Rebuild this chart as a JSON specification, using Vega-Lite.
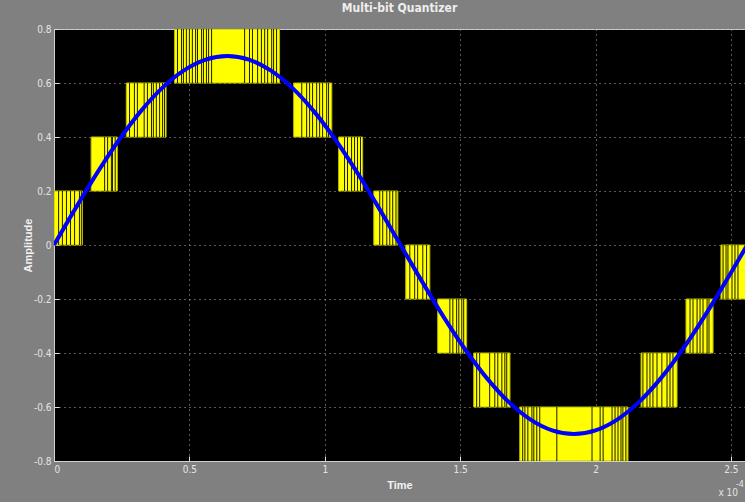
{
  "$schema": "https://vega.github.io/schema/vega-lite/v6.json",
  "autosize": "none",
  "width": 691,
  "height": 432,
  "padding": {"left": 54, "top": 29, "right": 0, "bottom": 41},
  "background": "#808080",
  "title": {"text": "Multi-bit Quantizer", "color": "#eeeeee", "font": "Liberation Sans Narrow, DejaVu Sans Condensed, sans-serif", "fontSize": 12, "fontWeight": "bold", "offset": 9, "anchor": "middle"},
  "config": {
    "view": {"fill": "#000000", "stroke": "#cfcfcf", "strokeWidth": 1},
    "axis": {
      "labelFont": "Liberation Sans Narrow, DejaVu Sans Condensed, sans-serif",
      "labelFontSize": 10,
      "labelColor": "#e4e4e4",
      "titleFont": "Liberation Sans, Arial, sans-serif",
      "titleFontSize": 11,
      "titleFontWeight": "bold",
      "titleColor": "#f2f2f2",
      "grid": true,
      "gridColor": "#b0b0b0",
      "gridDash": [1, 4],
      "gridWidth": 1,
      "domainColor": "#d0d0d0",
      "tickColor": "#e0e0e0",
      "tickSize": -5
    }
  },
  "datasets": {
    "bands": [
      {"t0": 0.0, "t1": 0.105, "lo": 0.0, "hi": 0.2},
      {"t0": 0.137, "t1": 0.234, "lo": 0.2, "hi": 0.4},
      {"t0": 0.267, "t1": 0.414, "lo": 0.4, "hi": 0.6},
      {"t0": 0.445, "t1": 0.833, "lo": 0.6, "hi": 0.8},
      {"t0": 0.885, "t1": 1.026, "lo": 0.4, "hi": 0.6},
      {"t0": 1.051, "t1": 1.140, "lo": 0.2, "hi": 0.4},
      {"t0": 1.181, "t1": 1.270, "lo": 0.0, "hi": 0.2},
      {"t0": 1.299, "t1": 1.388, "lo": -0.2, "hi": 0.0},
      {"t0": 1.417, "t1": 1.524, "lo": -0.4, "hi": -0.2},
      {"t0": 1.550, "t1": 1.684, "lo": -0.6, "hi": -0.4},
      {"t0": 1.720, "t1": 2.120, "lo": -0.8, "hi": -0.6},
      {"t0": 2.168, "t1": 2.301, "lo": -0.6, "hi": -0.4},
      {"t0": 2.334, "t1": 2.434, "lo": -0.4, "hi": -0.2},
      {"t0": 2.463, "t1": 2.560, "lo": -0.2, "hi": 0.0}
    ],
    "gaps": [
      {"t": 0.017, "lo": 0.0, "hi": 0.2}, {"t": 0.031, "lo": 0.0, "hi": 0.2}, {"t": 0.046, "lo": 0.0, "hi": 0.2}, {"t": 0.061, "lo": 0.0, "hi": 0.2}, {"t": 0.076, "lo": 0.0, "hi": 0.2}, {"t": 0.094, "lo": 0.0, "hi": 0.2}, {"t": 0.101, "lo": 0.0, "hi": 0.2},
      {"t": 0.187, "lo": 0.2, "hi": 0.4}, {"t": 0.198, "lo": 0.2, "hi": 0.4}, {"t": 0.212, "lo": 0.2, "hi": 0.4}, {"t": 0.216, "lo": 0.2, "hi": 0.4}, {"t": 0.226, "lo": 0.2, "hi": 0.4},
      {"t": 0.279, "lo": 0.4, "hi": 0.6}, {"t": 0.297, "lo": 0.4, "hi": 0.6}, {"t": 0.308, "lo": 0.4, "hi": 0.6}, {"t": 0.333, "lo": 0.4, "hi": 0.6}, {"t": 0.345, "lo": 0.4, "hi": 0.6}, {"t": 0.360, "lo": 0.4, "hi": 0.6}, {"t": 0.367, "lo": 0.4, "hi": 0.6}, {"t": 0.378, "lo": 0.4, "hi": 0.6}, {"t": 0.390, "lo": 0.4, "hi": 0.6}, {"t": 0.401, "lo": 0.4, "hi": 0.6}, {"t": 0.408, "lo": 0.4, "hi": 0.6},
      {"t": 0.456, "lo": 0.6, "hi": 0.8}, {"t": 0.471, "lo": 0.6, "hi": 0.8}, {"t": 0.478, "lo": 0.6, "hi": 0.8}, {"t": 0.489, "lo": 0.6, "hi": 0.8}, {"t": 0.500, "lo": 0.6, "hi": 0.8}, {"t": 0.511, "lo": 0.6, "hi": 0.8}, {"t": 0.523, "lo": 0.6, "hi": 0.8}, {"t": 0.530, "lo": 0.6, "hi": 0.8}, {"t": 0.545, "lo": 0.6, "hi": 0.8}, {"t": 0.552, "lo": 0.6, "hi": 0.8}, {"t": 0.563, "lo": 0.6, "hi": 0.8}, {"t": 0.571, "lo": 0.6, "hi": 0.8}, {"t": 0.582, "lo": 0.6, "hi": 0.8}, {"t": 0.704, "lo": 0.6, "hi": 0.8}, {"t": 0.722, "lo": 0.6, "hi": 0.8}, {"t": 0.733, "lo": 0.6, "hi": 0.8}, {"t": 0.752, "lo": 0.6, "hi": 0.8}, {"t": 0.766, "lo": 0.6, "hi": 0.8}, {"t": 0.778, "lo": 0.6, "hi": 0.8}, {"t": 0.789, "lo": 0.6, "hi": 0.8}, {"t": 0.804, "lo": 0.6, "hi": 0.8}, {"t": 0.811, "lo": 0.6, "hi": 0.8}, {"t": 0.822, "lo": 0.6, "hi": 0.8},
      {"t": 0.915, "lo": 0.4, "hi": 0.6}, {"t": 0.933, "lo": 0.4, "hi": 0.6}, {"t": 0.944, "lo": 0.4, "hi": 0.6}, {"t": 0.955, "lo": 0.4, "hi": 0.6}, {"t": 0.970, "lo": 0.4, "hi": 0.6}, {"t": 0.981, "lo": 0.4, "hi": 0.6}, {"t": 0.992, "lo": 0.4, "hi": 0.6}, {"t": 1.007, "lo": 0.4, "hi": 0.6}, {"t": 1.014, "lo": 0.4, "hi": 0.6},
      {"t": 1.073, "lo": 0.2, "hi": 0.4}, {"t": 1.084, "lo": 0.2, "hi": 0.4}, {"t": 1.099, "lo": 0.2, "hi": 0.4}, {"t": 1.110, "lo": 0.2, "hi": 0.4}, {"t": 1.121, "lo": 0.2, "hi": 0.4}, {"t": 1.132, "lo": 0.2, "hi": 0.4},
      {"t": 1.203, "lo": 0.0, "hi": 0.2}, {"t": 1.214, "lo": 0.0, "hi": 0.2}, {"t": 1.229, "lo": 0.0, "hi": 0.2}, {"t": 1.240, "lo": 0.0, "hi": 0.2}, {"t": 1.251, "lo": 0.0, "hi": 0.2}, {"t": 1.263, "lo": 0.0, "hi": 0.2},
      {"t": 1.314, "lo": -0.2, "hi": 0.0}, {"t": 1.332, "lo": -0.2, "hi": 0.0}, {"t": 1.343, "lo": -0.2, "hi": 0.0}, {"t": 1.362, "lo": -0.2, "hi": 0.0}, {"t": 1.376, "lo": -0.2, "hi": 0.0},
      {"t": 1.462, "lo": -0.4, "hi": -0.2}, {"t": 1.473, "lo": -0.4, "hi": -0.2}, {"t": 1.487, "lo": -0.4, "hi": -0.2}, {"t": 1.495, "lo": -0.4, "hi": -0.2}, {"t": 1.506, "lo": -0.4, "hi": -0.2}, {"t": 1.513, "lo": -0.4, "hi": -0.2},
      {"t": 1.561, "lo": -0.6, "hi": -0.4}, {"t": 1.572, "lo": -0.6, "hi": -0.4}, {"t": 1.609, "lo": -0.6, "hi": -0.4}, {"t": 1.628, "lo": -0.6, "hi": -0.4}, {"t": 1.639, "lo": -0.6, "hi": -0.4}, {"t": 1.654, "lo": -0.6, "hi": -0.4}, {"t": 1.665, "lo": -0.6, "hi": -0.4}, {"t": 1.672, "lo": -0.6, "hi": -0.4},
      {"t": 1.731, "lo": -0.8, "hi": -0.6}, {"t": 1.739, "lo": -0.8, "hi": -0.6}, {"t": 1.750, "lo": -0.8, "hi": -0.6}, {"t": 1.765, "lo": -0.8, "hi": -0.6}, {"t": 1.772, "lo": -0.8, "hi": -0.6}, {"t": 1.783, "lo": -0.8, "hi": -0.6}, {"t": 1.794, "lo": -0.8, "hi": -0.6}, {"t": 1.857, "lo": -0.8, "hi": -0.6}, {"t": 1.987, "lo": -0.8, "hi": -0.6}, {"t": 2.017, "lo": -0.8, "hi": -0.6}, {"t": 2.028, "lo": -0.8, "hi": -0.6}, {"t": 2.061, "lo": -0.8, "hi": -0.6}, {"t": 2.072, "lo": -0.8, "hi": -0.6}, {"t": 2.083, "lo": -0.8, "hi": -0.6}, {"t": 2.094, "lo": -0.8, "hi": -0.6}, {"t": 2.101, "lo": -0.8, "hi": -0.6}, {"t": 2.112, "lo": -0.8, "hi": -0.6},
      {"t": 2.175, "lo": -0.6, "hi": -0.4}, {"t": 2.190, "lo": -0.6, "hi": -0.4}, {"t": 2.201, "lo": -0.6, "hi": -0.4}, {"t": 2.212, "lo": -0.6, "hi": -0.4}, {"t": 2.227, "lo": -0.6, "hi": -0.4}, {"t": 2.245, "lo": -0.6, "hi": -0.4}, {"t": 2.264, "lo": -0.6, "hi": -0.4}, {"t": 2.275, "lo": -0.6, "hi": -0.4}, {"t": 2.286, "lo": -0.6, "hi": -0.4},
      {"t": 2.349, "lo": -0.4, "hi": -0.2}, {"t": 2.360, "lo": -0.4, "hi": -0.2}, {"t": 2.375, "lo": -0.4, "hi": -0.2}, {"t": 2.386, "lo": -0.4, "hi": -0.2}, {"t": 2.397, "lo": -0.4, "hi": -0.2}, {"t": 2.412, "lo": -0.4, "hi": -0.2}, {"t": 2.419, "lo": -0.4, "hi": -0.2},
      {"t": 2.471, "lo": -0.2, "hi": 0.0}, {"t": 2.482, "lo": -0.2, "hi": 0.0}, {"t": 2.489, "lo": -0.2, "hi": 0.0}, {"t": 2.504, "lo": -0.2, "hi": 0.0}, {"t": 2.515, "lo": -0.2, "hi": 0.0}, {"t": 2.526, "lo": -0.2, "hi": 0.0}
    ],
    "sine": [
      {"t": 0.00, "v": 0.0}, {"t": 0.08, "v": 0.1366}, {"t": 0.16, "v": 0.2679}, {"t": 0.24, "v": 0.3889}, {"t": 0.32, "v": 0.4950}, {"t": 0.40, "v": 0.5821}, {"t": 0.48, "v": 0.6467}, {"t": 0.56, "v": 0.6866}, {"t": 0.64, "v": 0.7},
      {"t": 0.72, "v": 0.6866}, {"t": 0.80, "v": 0.6467}, {"t": 0.88, "v": 0.5821}, {"t": 0.96, "v": 0.4950}, {"t": 1.04, "v": 0.3889}, {"t": 1.12, "v": 0.2679}, {"t": 1.20, "v": 0.1366}, {"t": 1.28, "v": 0.0},
      {"t": 1.36, "v": -0.1366}, {"t": 1.44, "v": -0.2679}, {"t": 1.52, "v": -0.3889}, {"t": 1.60, "v": -0.4950}, {"t": 1.68, "v": -0.5821}, {"t": 1.76, "v": -0.6467}, {"t": 1.84, "v": -0.6866}, {"t": 1.92, "v": -0.7},
      {"t": 2.00, "v": -0.6866}, {"t": 2.08, "v": -0.6467}, {"t": 2.16, "v": -0.5821}, {"t": 2.24, "v": -0.4950}, {"t": 2.32, "v": -0.3889}, {"t": 2.40, "v": -0.2679}, {"t": 2.48, "v": -0.1366}, {"t": 2.56, "v": 0.0}
    ],
    "exp": [
      {"t": 2.552, "v": -0.8, "label": "x 10"}
    ]
  },
  "layer": [
    {
      "data": {"name": "bands"},
      "mark": {"type": "rect", "color": "#ffff00", "stroke": "#b8b800", "strokeWidth": 1, "clip": true},
      "encoding": {
        "x": {"field": "t0", "type": "quantitative", "scale": {"domain": [0, 2.552], "nice": false, "zero": false},
          "axis": {"title": "Time", "values": [0, 0.5, 1, 1.5, 2, 2.5], "labelExpr": "format(datum.value, '~g')", "labelPadding": 8, "titlePadding": 5}},
        "x2": {"field": "t1"},
        "y": {"field": "lo", "type": "quantitative", "scale": {"domain": [-0.8, 0.8], "nice": false},
          "axis": {"title": "Amplitude", "values": [-0.8, -0.6, -0.4, -0.2, 0, 0.2, 0.4, 0.6, 0.8], "labelExpr": "datum.value == 0 ? '0' : (datum.value < 0 ? '-' : '') + format(abs(datum.value), '.1f')", "labelPadding": 8, "titlePadding": 0}},
        "y2": {"field": "hi"}
      }
    },
    {
      "data": {"name": "gaps"},
      "mark": {"type": "rule", "color": "#1c1c00", "strokeWidth": 1, "clip": true},
      "encoding": {
        "x": {"field": "t", "type": "quantitative"},
        "y": {"field": "lo", "type": "quantitative"},
        "y2": {"field": "hi"}
      }
    },
    {
      "mark": {"type": "rule", "color": "#009c9c", "strokeWidth": 1.5},
      "encoding": {"y": {"datum": 0, "type": "quantitative"}}
    },
    {
      "data": {"name": "sine"},
      "mark": {"type": "line", "color": "#0000ff", "strokeWidth": 4, "interpolate": "monotone", "clip": true},
      "encoding": {
        "x": {"field": "t", "type": "quantitative"},
        "y": {"field": "v", "type": "quantitative"}
      }
    },
    {
      "data": {"name": "exp"},
      "mark": {"type": "text", "color": "#e4e4e4", "font": "Liberation Sans Narrow, DejaVu Sans Condensed, sans-serif", "fontSize": 10, "align": "right", "baseline": "middle", "dy": 32, "dx": -7},
      "encoding": {
        "x": {"field": "t", "type": "quantitative"},
        "y": {"field": "v", "type": "quantitative"},
        "text": {"field": "label"}
      }
    },
    {
      "data": {"name": "exp"},
      "mark": {"type": "text", "color": "#e4e4e4", "font": "Liberation Sans Narrow, DejaVu Sans Condensed, sans-serif", "fontSize": 9, "align": "right", "baseline": "middle", "dy": 23, "dx": -1, "text": "-4"},
      "encoding": {
        "x": {"field": "t", "type": "quantitative"},
        "y": {"field": "v", "type": "quantitative"}
      }
    }
  ]
}
